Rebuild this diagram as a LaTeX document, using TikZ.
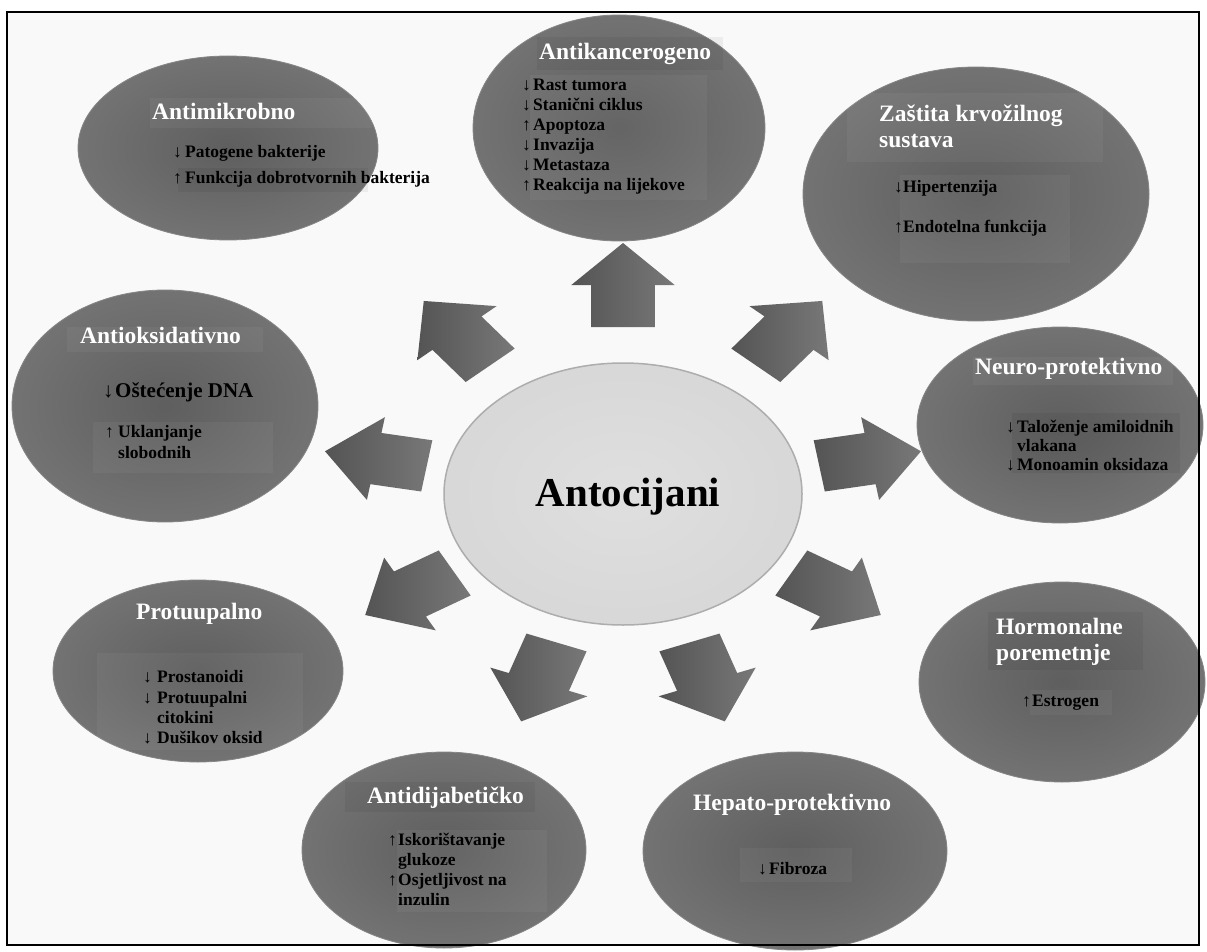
\documentclass[tikz,border=0pt]{standalone}
\usepackage{fontspec}
\setmainfont{Liberation Serif}
\usetikzlibrary{shapes.geometric}
\definecolor{bgc}{gray}{0.975}
\definecolor{bubin}{gray}{0.37}
\definecolor{bubout}{gray}{0.45}
\definecolor{bubrim}{gray}{0.52}
\definecolor{arrdark}{gray}{0.33}
\definecolor{arrlight}{gray}{0.47}
\definecolor{cenin}{gray}{0.875}
\definecolor{cenout}{gray}{0.845}
\definecolor{cenrim}{gray}{0.68}
\tikzset{
  bubble/.style={ellipse, inner sep=0pt, shade, inner color=bubin, outer color=bubout, draw=bubrim, line width=0.8pt},
  cenell/.style={ellipse, inner sep=0pt, shade, inner color=cenin, outer color=cenout, draw=cenrim, line width=1.5pt},
  blockarrow/.style={left color=arrdark, right color=arrlight, draw=none},
  ttl/.style={text=white, font=\bfseries\fontsize{23.5}{26}\selectfont, anchor=base west, inner sep=0pt},
  itm/.style={text=black, font=\bfseries\fontsize{17.5}{20}\selectfont, anchor=base west, inner sep=0pt},
  lightpatch/.style={fill=white, opacity=0.045},
  darkpatch/.style={fill=black, opacity=0.05},
}
\newcommand{\dn}[1][11pt]{\makebox[#1][l]{↓}}
\newcommand{\up}[1][11pt]{\makebox[#1][l]{↑}}
\begin{document}
\begin{tikzpicture}[x=1pt,y=-1pt]
\useasboundingbox (0,0) rectangle (1207,952);
\fill[white] (0,0) rectangle (1207,952);
\fill[bgc] (7,12) rectangle (1199,945);

% block arrows
\begin{scope}[shift={(623,494)}, xscale=1.23]
\foreach \a/\r in {90/167,130/168,50/168,170/162,10/162,210/158,330/158,250/158,290/158}
  \shade[blockarrow, rotate=\a, xshift=\r pt] (0pt,-26pt) -- (42pt,-26pt) -- (42pt,-42pt) -- (84pt,0pt) -- (42pt,42pt) -- (42pt,26pt) -- (0pt,26pt) -- cycle;
\end{scope}

% outer ellipses
\node[bubble, minimum width=300pt, minimum height=184pt] (mikro) at (228,148) {};
\node[bubble, minimum width=292pt, minimum height=226pt] (kancer) at (619,128) {};
\node[bubble, minimum width=346pt, minimum height=254pt] (krv) at (976,194) {};
\node[bubble, minimum width=306pt, minimum height=232pt] (oks) at (165,406) {};
\node[bubble, minimum width=286pt, minimum height=196pt] (neuro) at (1060,425) {};
\node[bubble, minimum width=290pt, minimum height=182pt] (upal) at (198,671) {};
\node[bubble, minimum width=286pt, minimum height=200pt] (horm) at (1062,682) {};
\node[bubble, minimum width=284pt, minimum height=196pt] (dijab) at (444,850) {};
\node[bubble, minimum width=304pt, minimum height=198pt] (hepato) at (795,851) {};

% central ellipse
\node[cenell, minimum width=358pt, minimum height=262pt] (ant) at (623,494) {};
\node[anchor=base, inner sep=0pt, font=\bfseries\fontsize{41}{45}\selectfont] (antlbl) at (628,506) {Antocijani};

% faint text patches
\fill[lightpatch] (150,98) rectangle (372,128);
\fill[darkpatch] (178,168) rectangle (368,192);
\fill[darkpatch] (537,37) rectangle (723,70);
\fill[lightpatch] (530,75) rectangle (707,200);
\fill[lightpatch] (847,93) rectangle (1103,162);
\fill[lightpatch] (900,175) rectangle (1070,263);
\fill[lightpatch] (67,327) rectangle (263,352);
\fill[lightpatch] (93,422) rectangle (273,473);
\fill[lightpatch] (973,357) rectangle (1173,385);
\fill[darkpatch] (1012,413) rectangle (1180,473);
\fill[lightpatch] (97,653) rectangle (303,750);
\fill[darkpatch] (988,612) rectangle (1143,670);
\fill[lightpatch] (1030,690) rectangle (1112,715);
\fill[darkpatch] (345,782) rectangle (535,812);
\fill[lightpatch] (397,830) rectangle (547,912);
\fill[lightpatch] (740,848) rectangle (852,882);

% Antimikrobno
\node[ttl] (mikroT) at (152,120) {Antimikrobno};
\node[itm] (mikro1) at (173,158) {\dn[12pt]Patogene bakterije};
\node[itm] (mikro2) at (173,184) {\up[12pt]Funkcija dobrotvornih bakterija};

% Antikancerogeno
\node[ttl] (kancerT) at (539,60) {Antikancerogeno};
\node[itm] (kancer1) at (522,91) {\dn Rast tumora};
\node[itm] (kancer2) at (522,111) {\dn Stanični ciklus};
\node[itm] (kancer3) at (522,131) {\up Apoptoza};
\node[itm] (kancer4) at (522,151) {\dn Invazija};
\node[itm] (kancer5) at (522,171) {\dn Metastaza};
\node[itm] (kancer6) at (522,191) {\up Reakcija na lijekove};

% Zastita
\node[ttl] (krvT1) at (879,122) {Zaštita krvožilnog};
\node[ttl] (krvT2) at (879,148) {sustava};
\node[itm] (krv1) at (894,193) {\dn[9pt]Hipertenzija};
\node[itm] (krv2) at (894,233) {\up[9pt]Endotelna funkcija};

% Antioksidativno
\node[ttl] (oksT) at (80,343) {Antioksidativno};
\node[itm, font=\bfseries\fontsize{21}{24}\selectfont] (oks1) at (103,397) {\dn[12pt]Oštećenje DNA};
\node[itm] (oks2) at (105,437) {\up[13pt]Uklanjanje};
\node[itm] (oks3) at (118,458) {slobodnih};

% Neuro-protektivno
\node[ttl] (neuroT) at (975,374) {Neuro-protektivno};
\node[itm] (neuro1) at (1006,432) {\dn Taloženje amiloidnih};
\node[itm] (neuro2) at (1017,451) {vlakana};
\node[itm] (neuro3) at (1006,470) {\dn Monoamin oksidaza};

% Protuupalno
\node[ttl] (upalT) at (136,619) {Protuupalno};
\node[itm] (upal1) at (143,682) {\dn[14pt]Prostanoidi};
\node[itm] (upal2) at (143,703) {\dn[14pt]Protuupalni};
\node[itm] (upal3) at (157,723) {citokini};
\node[itm] (upal4) at (143,743) {\dn[14pt]Dušikov oksid};

% Hormonalne poremetnje
\node[ttl] (hormT1) at (996,634) {Hormonalne};
\node[ttl] (hormT2) at (996,660) {poremetnje};
\node[itm] (horm1) at (1022,706) {\up[10pt]Estrogen};

% Antidijabeticko
\node[ttl] (dijabT) at (367,803) {Antidijabetičko};
\node[itm] (dijab1) at (388,845) {\up[10pt]Iskorištavanje};
\node[itm] (dijab2) at (398,865) {glukoze};
\node[itm] (dijab3) at (388,885) {\up[10pt]Osjetljivost na};
\node[itm] (dijab4) at (398,905) {inzulin};

% Hepato-protektivno
\node[ttl] (hepatoT) at (693,810) {Hepato-protektivno};
\node[itm] (hepato1) at (758,874) {\dn Fibroza};

% frame
\draw[black, line width=2pt] (7,12) rectangle (1199,945);
\end{tikzpicture}
\end{document}
